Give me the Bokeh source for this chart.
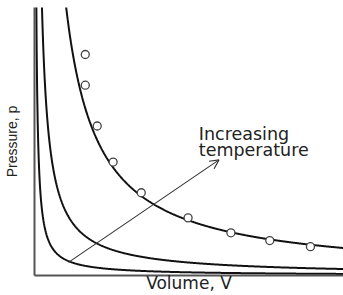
import numpy as np
from bokeh.plotting import figure
from bokeh.models import Range1d, FixedTicker, Arrow, OpenHead, ColumnDataSource
from bokeh.core.properties import value
from bokeh.embed import file_html
from bokeh.resources import INLINE

# Isotherm constants (p*V), lowest to highest temperature
isotherm_k = [0.6, 2.45, 10.4]

# Observed (real gas) points, circles
obs_volume = [1.66, 1.66, 2.05, 2.57, 3.49, 5.02, 6.42, 7.69, 9.02]
obs_pressure = [8.28, 7.13, 5.60, 4.25, 3.10, 2.16, 1.60, 1.31, 1.08]

# Arrow "Increasing temperature"
arrow_start = (1.11, 0.49)
arrow_end = (6.03, 4.33)
annot_lines = ["Increasing", "temperature"]
annot_x = [5.37, 5.37]
annot_y = [5.29, 4.70]

V_MAX = 10.1
P_MAX = 10.04

p = figure(width=343, height=295, x_range=Range1d(0, V_MAX), y_range=Range1d(0, P_MAX),
           output_backend="svg", toolbar_location=None,
           min_border_left=33, min_border_right=0, min_border_top=7, min_border_bottom=0)
p.outline_line_color = None
p.grid.visible = False
p.background_fill_color = "white"

for ax in (p.xaxis[0], p.yaxis[0]):
    ax.ticker = FixedTicker(ticks=[])
    ax.major_tick_out = 0
    ax.major_tick_in = 0
    ax.minor_tick_out = 0
    ax.minor_tick_in = 0
    ax.major_label_standoff = 0
    ax.axis_line_color = "#555555"
    ax.axis_line_width = 2
    ax.axis_label_text_font_style = "normal"
    ax.axis_label_text_color = "#222222"

p.xaxis.axis_label = "Volume, V"
p.xaxis.axis_label_text_font = "DejaVu Sans"
p.xaxis.axis_label_text_font_size = "17px"
p.xaxis.axis_label_standoff = -3

p.yaxis.axis_label = "Pressure, p"
p.yaxis.axis_label_text_font = "Liberation Sans"
p.yaxis.axis_label_text_font_size = "14px"
p.yaxis.axis_label_standoff = 15

for k in isotherm_k:
    v = np.linspace(k / 11.0, V_MAX, 600)
    p.line(v, k / v, line_color="#111111", line_width=2)

p.scatter(obs_volume, obs_pressure, marker="circle", size=8, fill_color="white",
          line_color="#444444", line_width=1.3)

p.add_layout(Arrow(end=OpenHead(size=9, line_width=1.2, line_color="#333333"),
                   x_start=arrow_start[0], y_start=arrow_start[1],
                   x_end=arrow_end[0], y_end=arrow_end[1],
                   line_width=1.1, line_color="#333333"))

src = ColumnDataSource(dict(x=annot_x, y=annot_y, t=annot_lines))
p.text(x="x", y="y", text="t", source=src, text_font=value("DejaVu Sans"),
       text_font_size="17.5px", text_color="#222222", text_align="left",
       text_baseline="alphabetic")

open("out.html", "w").write(file_html(p, INLINE))
